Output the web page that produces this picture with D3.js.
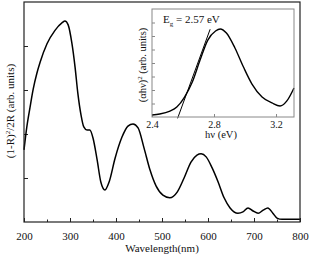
<!DOCTYPE html>
<html>
<head>
<meta charset="utf-8">
<script src="https://cdn.jsdelivr.net/npm/d3@7"></script>
<style>
body { margin: 0; background: #fff; }
text { font-family: "Liberation Serif", "Times New Roman", serif; fill: #111; }
</style>
</head>
<body>
<script>
// main spectrum: wavelength (nm) and (1-R)^2/2R in arbitrary units
var wavelength = [200, 206, 213, 220, 228, 235, 250, 267, 283, 289, 296, 304, 311, 317, 324, 330, 337, 343, 350, 359, 367, 376, 385, 398, 413, 426, 437, 448, 461, 474, 487, 502, 517, 533, 548, 563, 576, 585, 596, 609, 622, 635, 648, 665, 676, 687, 698, 709, 720, 730, 741, 750, 761, 780, 800];
var remission = [1.64, 2.15, 2.6, 3.02, 3.38, 3.63, 4.05, 4.35, 4.53, 4.57, 4.48, 4.07, 3.52, 2.93, 2.43, 2.16, 2.09, 2.09, 1.91, 1.41, 0.91, 0.73, 0.91, 1.45, 1.93, 2.18, 2.23, 2.14, 1.68, 1.18, 0.82, 0.61, 0.55, 0.68, 1.0, 1.36, 1.52, 1.55, 1.48, 1.23, 0.91, 0.55, 0.32, 0.20, 0.23, 0.32, 0.25, 0.20, 0.27, 0.32, 0.20, 0.09, 0.06, 0.06, 0.06];

// inset: photon energy (eV) and (alpha h nu)^2
var energy = [2.40, 2.45, 2.516, 2.56, 2.61, 2.66, 2.71, 2.76, 2.81, 2.84, 2.88, 2.935, 2.99, 3.045, 3.11, 3.174, 3.226, 3.27, 3.316];
var absorb = [0.15, 0.22, 0.44, 0.74, 1.48, 2.59, 4.22, 5.7, 6.37, 6.52, 6.22, 5.11, 3.7, 2.44, 1.48, 1.04, 0.81, 1.19, 2.15];

// tangent used for the band gap
var tangentE = [2.565, 2.775];
var tangentY = [-0.1, 6.5];

var mainTicks = [200, 300, 400, 500, 600, 700, 800];
var mainMinor = [250, 350, 450, 550, 650, 750];
var mainYTicks = [1, 2, 3, 4];
var insetTicks = [2.4, 2.8, 3.2];
var insetYTicks = [1, 2, 3, 4, 5, 6, 7];

var svg = d3.select("body").append("svg").attr("width", 310).attr("height", 258);

var x = d3.scaleLinear().domain([200, 800]).range([24, 300]);
var y = d3.scaleLinear().domain([0, 5]).range([222, 2]);

var xi = d3.scaleLinear().domain([2.4, 3.316]).range([152, 294]);
var yi = d3.scaleLinear().domain([0, 8]).range([117, 9]);

function styleAxis(g, color){
	g.select(".domain").remove();
	g.selectAll("line").attr("stroke", color);
	g.selectAll("text").style("font-size", "11px").attr("fill", "#111");
}

// main axes
svg.append("g").attr("transform", "translate(0,222)")
	.call(d3.axisBottom(x).tickValues(mainTicks).tickSize(-4).tickPadding(10).tickFormat(d3.format("d")))
	.call(styleAxis, "#222");
svg.append("g").attr("transform", "translate(0,222)")
	.call(d3.axisBottom(x).tickValues(mainMinor).tickSize(-2.5).tickFormat(""))
	.call(styleAxis, "#222");
svg.append("g").attr("transform", "translate(24,0)")
	.call(d3.axisLeft(y).tickValues(mainYTicks).tickSize(-4).tickFormat(""))
	.call(styleAxis, "#222");

var line = d3.line()
	.x(function(d, i){ return x(wavelength[i]); })
	.y(function(d){ return y(d); })
	.curve(d3.curveMonotoneX);

svg.append("path").datum(remission)
	.attr("d", line)
	.attr("fill", "none")
	.attr("stroke", "#000")
	.attr("stroke-width", 1.5);

svg.append("rect")
	.attr("x", 24).attr("y", 2).attr("width", 276).attr("height", 220)
	.attr("fill", "none").attr("stroke", "#222").attr("stroke-width", 1.2);

// main labels
svg.append("text")
	.attr("x", 162).attr("y", 252)
	.attr("text-anchor", "middle")
	.style("font-size", "11px")
	.text("Wavelength(nm)");

var ylab = svg.append("text")
	.attr("transform", "translate(14,111) rotate(-90)")
	.attr("text-anchor", "middle")
	.style("font-size", "11px");
ylab.append("tspan").text("(1-R)");
ylab.append("tspan").attr("dy", -4).style("font-size", "7px").text("2");
ylab.append("tspan").attr("dy", 4).text("/2R (arb. units)");

// inset
var inset = svg.append("g");
inset.append("rect")
	.attr("x", 152).attr("y", 9).attr("width", 142).attr("height", 108)
	.attr("fill", "#fff");

inset.append("g").attr("transform", "translate(0,117)")
	.call(d3.axisBottom(xi).tickValues(insetTicks).tickSize(-3).tickPadding(4).tickFormat(d3.format(".1f")))
	.call(styleAxis, "#888")
	.selectAll("text").style("font-size", "10px");
inset.append("g").attr("transform", "translate(152,0)")
	.call(d3.axisLeft(yi).tickValues(insetYTicks).tickSize(-3).tickFormat(""))
	.call(styleAxis, "#888");

var iline = d3.line()
	.x(function(d, i){ return xi(energy[i]); })
	.y(function(d){ return yi(d); })
	.curve(d3.curveMonotoneX);

inset.append("path").datum(absorb)
	.attr("d", iline)
	.attr("fill", "none")
	.attr("stroke", "#000")
	.attr("stroke-width", 1.4);

inset.append("line")
	.attr("x1", xi(tangentE[0])).attr("y1", yi(tangentY[0]))
	.attr("x2", xi(tangentE[1])).attr("y2", yi(tangentY[1]))
	.attr("stroke", "#000").attr("stroke-width", 1);

inset.append("rect")
	.attr("x", 152).attr("y", 9).attr("width", 142).attr("height", 108)
	.attr("fill", "none").attr("stroke", "#888").attr("stroke-width", 1);

var eg = inset.append("text")
	.attr("x", 163).attr("y", 23)
	.style("font-size", "11px");
eg.append("tspan").text("E");
eg.append("tspan").attr("dy", 3).style("font-size", "7px").text("g");
eg.append("tspan").attr("dy", -3).text(" = 2.57 eV");

inset.append("text")
	.attr("x", 221).attr("y", 138)
	.attr("text-anchor", "middle")
	.style("font-size", "10.5px")
	.text("hν (eV)");

var iyl = inset.append("text")
	.attr("transform", "translate(146,65) rotate(-90)")
	.attr("text-anchor", "middle")
	.style("font-size", "10.5px");
iyl.append("tspan").text("(αhν)");
iyl.append("tspan").attr("dy", -4).style("font-size", "7px").text("2");
iyl.append("tspan").attr("dy", 4).text(" (arb. units)");
</script>
</body>
</html>
